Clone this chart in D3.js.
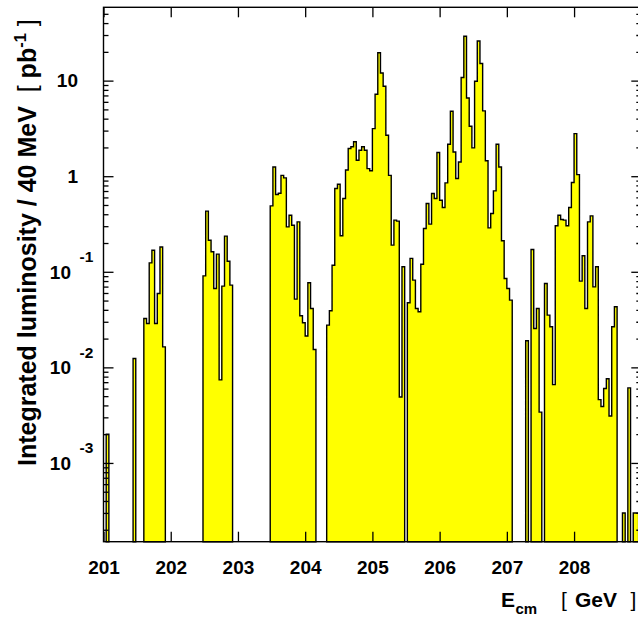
<!DOCTYPE html>
<html>
<head>
<meta charset="utf-8">
<script src="https://cdn.jsdelivr.net/npm/d3@7"></script>
<style>
  body { margin: 0; background: #fff; }
  svg { display: block; font-family: "Liberation Sans", Arial, Helvetica, sans-serif; }
</style>
</head>
<body>
<svg id="chart" width="638" height="618"></svg>
<script>
// 40 MeV bins, 25 per GeV, starting at 201.00 GeV
const eStart = 201, binWidth = 0.04;
const lumi201 = [0, 0.002, 0, 0, 0, 0, 0, 0, 0, 0, 0, 0.0124, 0, 0, 0, 0.0325, 0.0288, 0.124, 0.168, 0.0288, 0.0593, 0.182, 0.0164, 0, 0];
const lumi202 = [0, 0, 0, 0, 0, 0, 0, 0, 0, 0, 0, 0, 0.0907, 0.431, 0.214, 0.162, 0.0669, 0.153, 0.0074, 0.0708, 0.236, 0.129, 0.0725, 0, 0];
const lumi203 = [0, 0, 0, 0, 0, 0, 0, 0, 0, 0, 0, 0, 0.489, 1.25, 0.643, 0.664, 1.02, 0.96, 0.295, 0.391, 0.307, 0.0518, 0.333, 0.0347, 0.0293];
const lumi204 = [0.0213, 0.0767, 0.0413, 0.0154, 0, 0, 0, 0, 0.0277, 0.0391, 0.117, 0.743, 0.825, 0.238, 0.585, 1.16, 1.95, 2.03, 2.29, 1.47, 1.87, 2.03, 1.87, 1.20, 1.14];
const lumi205 = [3.15, 7.2, 19.6, 12.0, 8.73, 2.68, 1.02, 0.190, 0.347, 0.339, 0.0049, 0.113, 0, 0.0474, 0.138, 0.0818, 0.0413, 0.0382, 0.120, 0.284, 0.518, 0.315, 0.659, 0.585, 1.77];
const lumi206 = [0.561, 0.470, 0.851, 2.16, 4.78, 1.79, 0.946, 1.41, 10.8, 29.1, 6.59, 3.33, 1.98, 9.84, 26.0, 15.1, 4.82, 1.45, 0.288, 0.407, 0.703, 2.16, 1.25, 0.211, 0.085];
const lumi207 = [0.0669, 0.0505, 0, 0, 0, 0, 0, 0.019, 0, 0.171, 0.0255, 0.0413, 0.0034, 0, 0.0755, 0.0352, 0.0266, 0.0066, 0.303, 0.391, 0.352, 0.347, 0.303, 0.470, 0.859];
const lumi208 = [2.79, 1.04, 0.0798, 0.147, 0.0413, 0.333, 0.385, 0.0696, 0.113, 0.0046, 0.0039, 0.0060, 0.0076, 0.0031, 0.0266, 0.0430, 0, 0, 0.0003, 0, 0.0061, 0, 0.0003, 0.0003, 0];

const xTicks = [201, 202, 203, 204, 205, 206, 207, 208];
const yTicks = [1e-3, 1e-2, 1e-1, 1, 10];
const yTickBase = ["10", "10", "10", "1", "10"];
const yTickExp = ["-3", "-2", "-1", "", ""];

const svg = d3.select("#chart");
const pLeft = 103.5, pRight = 641.3, pTop = 7.3, pBottom = 541.7;

const x = d3.scaleLinear().domain([201, 209]).range([pLeft, pRight]);
const y = d3.scaleLog().domain([1.5e-4, 58.5]).range([pBottom, pTop]);

const lumi = [].concat(lumi201, lumi202, lumi203, lumi204, lumi205, lumi206, lumi207, lumi208);

// step outline, dropping to the axis where a bin is empty
const p = d3.path();
let prev = 0;
lumi.forEach((v, i) => {
  const e0 = eStart + i * binWidth, e1 = e0 + binWidth;
  if (v > 0) {
    if (prev <= 0) p.moveTo(x(e0), pBottom);
    p.lineTo(x(e0), y(v));
    p.lineTo(x(e1), y(v));
  } else if (prev > 0) {
    p.lineTo(x(e0), pBottom);
    p.closePath();
  }
  prev = v;
});
if (prev > 0) {
  p.lineTo(x(eStart + lumi.length * binWidth), pBottom);
  p.closePath();
}

svg.append("path")
  .attr("d", p.toString())
  .attr("fill", "#ffff00")
  .attr("stroke", "#000")
  .attr("stroke-width", 1.4)
  .attr("stroke-linejoin", "miter");

const minor = [];
[1e-4, 1e-3, 1e-2, 1e-1, 1, 10].forEach(d => {
  for (let m = 2; m <= 9; m++) {
    const v = d * m;
    if (v >= 1.5e-4 && v <= 58.5) minor.push(v);
  }
});

function styleAxis(g) {
  g.select(".domain").remove();
  g.selectAll(".tick line").attr("stroke", "#000").attr("stroke-width", 1.3);
}

svg.append("g").attr("transform", `translate(${pLeft},0)`)
  .call(d3.axisLeft(y).tickValues(yTicks).tickSize(-10).tickFormat(""))
  .call(styleAxis);
svg.append("g").attr("transform", `translate(${pLeft},0)`)
  .call(d3.axisLeft(y).tickValues(minor).tickSize(-5).tickFormat(""))
  .call(styleAxis);
svg.append("g").attr("transform", `translate(${pRight},0)`)
  .call(d3.axisRight(y).tickValues(yTicks).tickSize(-10).tickFormat(""))
  .call(styleAxis);
svg.append("g").attr("transform", `translate(${pRight},0)`)
  .call(d3.axisRight(y).tickValues(minor).tickSize(-5).tickFormat(""))
  .call(styleAxis);
svg.append("g").attr("transform", `translate(0,${pTop})`)
  .call(d3.axisTop(x).tickValues(xTicks).tickSize(-10).tickFormat(""))
  .call(styleAxis);

const xAxis = svg.append("g").attr("transform", `translate(0,${pBottom})`)
  .call(d3.axisBottom(x).tickValues(xTicks).tickSize(-10).tickPadding(19).tickFormat(d3.format("d")))
  .call(styleAxis);
xAxis.selectAll(".tick text")
  .attr("fill", "#000")
  .style("font-size", "19px")
  .style("font-weight", "bold")
  .style("font-family", "'Liberation Sans', Arial, sans-serif");

svg.append("rect")
  .attr("x", pLeft).attr("y", pTop)
  .attr("width", pRight - pLeft).attr("height", pBottom - pTop)
  .attr("fill", "none")
  .attr("stroke", "#000")
  .attr("stroke-width", 1.4);

const yl = svg.append("g").attr("font-weight", "bold").attr("fill", "#000");
yTicks.forEach((v, i) => {
  const ty = y(v);
  if (yTickExp[i]) {
    yl.append("text").attr("x", 71).attr("y", ty + 6.8)
      .attr("text-anchor", "end").style("font-size", "19px").text(yTickBase[i]);
    yl.append("text").attr("x", 79.5).attr("y", ty - 9.5)
      .attr("text-anchor", "start").style("font-size", "15.5px").text(yTickExp[i]);
  } else {
    yl.append("text").attr("x", 78).attr("y", ty + 6.8)
      .attr("text-anchor", "end").style("font-size", "19px").text(yTickBase[i]);
  }
});

// axis titles
const yt = svg.append("text")
  .attr("transform", "translate(36,466) rotate(-90)")
  .style("font-size", "25px")
  .style("font-weight", "bold")
  .style("white-space", "pre")
  .attr("fill", "#000");
yt.append("tspan").text("Integrated luminosity / 40 MeV  ");
yt.append("tspan").style("font-weight", "normal").text("[ ");
yt.append("tspan").text("pb");
yt.append("tspan").attr("dy", -10).style("font-size", "16.5px").text("-1");
yt.append("tspan").attr("dy", 10).style("font-weight", "normal").text(" ]");

const xt = svg.append("g").attr("fill", "#000");
xt.append("text").attr("x", 501).attr("y", 607)
  .style("font-size", "21px").style("font-weight", "bold").text("E");
xt.append("text").attr("x", 515.5).attr("y", 614)
  .style("font-size", "15px").style("font-weight", "bold").text("cm");
xt.append("text").attr("x", 561).attr("y", 607)
  .style("font-size", "21px").text("[");
xt.append("text").attr("x", 575).attr("y", 607)
  .style("font-size", "21px").style("font-weight", "bold").text("GeV");
xt.append("text").attr("x", 630.5).attr("y", 607)
  .style("font-size", "21px").text("]");
</script>
</body>
</html>
